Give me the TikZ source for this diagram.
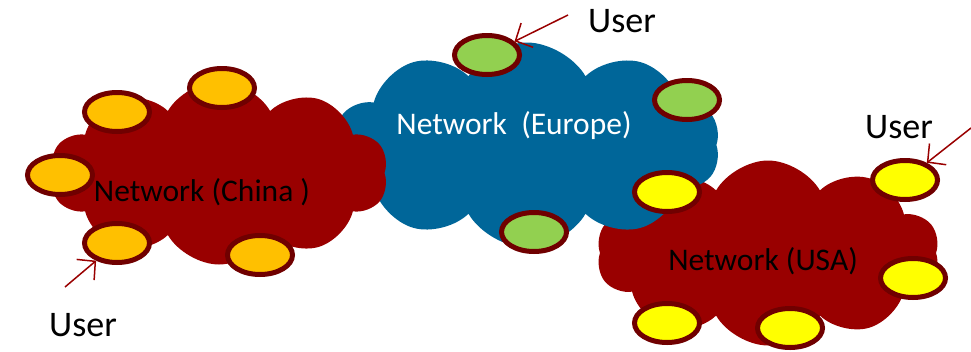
\documentclass[tikz,border=0pt]{standalone}
\usepackage{fontspec}
\setmainfont{Carlito}
\usetikzlibrary{shapes.symbols, shapes.geometric, arrows.meta}

\definecolor{netred}{RGB}{153,0,0}
\definecolor{netblue}{RGB}{0,102,153}
\definecolor{hostrim}{RGB}{112,0,0}
\definecolor{hostorange}{RGB}{255,192,0}
\definecolor{hostgreen}{RGB}{146,208,80}
\definecolor{hostyellow}{RGB}{255,255,0}

\begin{document}
\begin{tikzpicture}[
    x=1pt, y=-1pt,
    net/.style={cloud, cloud puffs=10, cloud puff arc=120, inner sep=0pt},
    netlabel/.style={font=\fontsize{31.5}{36}\selectfont, inner sep=0pt},
    host/.style={ellipse, draw=hostrim, line width=5pt, minimum width=65pt, minimum height=39pt, inner sep=0pt},
    user/.style={font=\fontsize{36}{40}\selectfont, inner sep=0pt},
    arrow/.style={-{Straight Barb[length=13pt, width=27pt]}, netred, line width=1.5pt}
]
\useasboundingbox (0,0) rectangle (971,351);

% the three networks, back to front
\node[net, fill=netred, minimum width=343pt, minimum height=185pt] (usa) at (768,253) {};
\node[net, fill=netblue, minimum width=386pt, minimum height=205pt] (europe) at (527,145) {};
\node[net, fill=netred, minimum width=338pt, minimum height=183pt] (china) at (219,173) {};

\node[netlabel] (usatxt) at (763,261) {Network (USA)};
\node[netlabel, text=white] (europetxt) at (514,126) {Network\ \ (Europe)};
\node[netlabel] (chinatxt) at (202,192) {Network (China )};

% hosts
\node[host, fill=hostorange] (c1) at (117,112) {};
\node[host, fill=hostorange] (c2) at (222,88) {};
\node[host, fill=hostorange] (c3) at (60,175) {};
\node[host, fill=hostorange] (c4) at (117,243) {};
\node[host, fill=hostorange] (c5) at (260,255) {};

\node[host, fill=hostgreen] (e1) at (487,55) {};
\node[host, fill=hostgreen] (e2) at (687,100) {};
\node[host, fill=hostgreen] (e3) at (534,232) {};

\node[host, fill=hostyellow] (u1) at (667,192) {};
\node[host, fill=hostyellow] (u2) at (905,180) {};
\node[host, fill=hostyellow] (u3) at (913,278) {};
\node[host, fill=hostyellow] (u4) at (667,323) {};
\node[host, fill=hostyellow] (u5) at (790,328) {};

% users
\node[user] (chinauser) at (83,325) {User};
\node[user] (europeuser) at (622,21) {User};
\node[user] (usauser) at (899,127) {User};

\coordinate (chinafrom) at (65,287);
\coordinate (europefrom) at (568,15);
\coordinate (usafrom) at (971,128);

\draw[arrow] (chinafrom) -- (c4);
\draw[arrow] (europefrom) -- (e1);
\draw[arrow] (usafrom) -- (u2);
\end{tikzpicture}
\end{document}
